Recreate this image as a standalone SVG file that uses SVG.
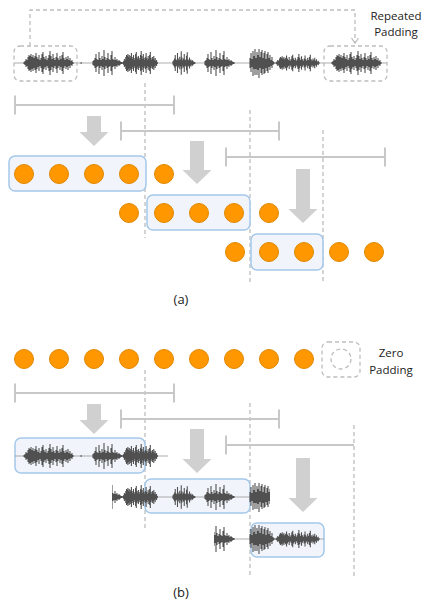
<svg xmlns="http://www.w3.org/2000/svg" xmlns:xlink="http://www.w3.org/1999/xlink" width="424" height="601" viewBox="0 0 424 601">
<style>
.wv{stroke:#505050;stroke-width:1.1;fill:none;vector-effect:non-scaling-stroke}
.cl{stroke:#8a8a8a;stroke-width:0.7}
.dash{stroke:#bdbdbd;stroke-width:1.3;stroke-dasharray:4 3;fill:none}
.bar{stroke:#c8c8c8;stroke-width:2;fill:none}
.arr{fill:#d0d0d0}
.box{fill:#f1f5fb;stroke:#a5c8ea;stroke-width:1.5}
.dot{fill:#ff9800;stroke:#e08700;stroke-width:1}
.txt{font-family:"Open Sans","Liberation Sans",sans-serif;font-size:11.5px;fill:#222;text-anchor:middle}
.cap{font-size:13px}
</style>
<defs>
<path id="b1" class="wv" d="M0-1V1M1-2V2M2-4V4M3-3V3M4-6V6M5-8V8M6-7V7M7-9V9M8-6V6M9-8V8M10-5V5M11-7V7M12-10V10M13-6V6M14-4V4M15-8V8M16-3V3M17-5V5M18-9V9M19-11V11M20-6V6M21-4V4M22-7V7M23-3V3M24-5V5M25-8V8M26-12V12M27-7V7M28-4V4M29-9V9M30-5V5M31-3V3M32-6V6M33-10V10M34-5V5M35-3V3M36-7V7M37-4V4M38-8V8M39-11V11M40-5V5M41-3V3M42-6V6M43-4V4M44-7V7M45-3V3M46-5V5M47-2V2M48-3V3M49-1V1"/>
<path id="b2" class="wv" d="M0-2V2M1-3V3M2-5V5M3-9V9M4-4V4M5-3V3M6-11V11M7-5V5M8-3V3M9-7V7M10-4V4M11-13V13M12-6V6M13-3V3M14-5V5M15-10V10M16-4V4M17-3V3M18-8V8M19-12V12M20-4V4M21-3V3M22-6V6M23-3V3M24-4V4M25-2V2M26-3V3M27-2V2M28-1V1M29-1V1"/>
<path id="b3" class="wv" d="M0-5V5M1-10V9M2-4V4M3-12V13M4-7V6M5-14V12M6-5V6M7-11V12M8-8V7M9-14V15M10-6V5M11-11V10M12-13V12M13-5V6M14-10V11M15-12V10M16-4V5M17-9V8M18-11V10M19-5V4M20-8V7M21-3V3M22-6V5M23-2V2M24-1V1"/>
<g id="sig">
<line class="cl" x1="14" y1="0" x2="387" y2="0"/>
<use xlink:href="#b1" transform="translate(24,0)"/>
<rect x="80.5" y="-0.8" width="1.2" height="1.6" fill="#505050"/>
<use xlink:href="#b2" transform="translate(93,0)"/>
<use xlink:href="#b1" transform="translate(123,0) scale(0.7,1)"/>
<use xlink:href="#b2" transform="translate(173,0) scale(0.75,0.9)"/>
<use xlink:href="#b2" transform="translate(205,0)"/>
<use xlink:href="#b3" transform="translate(250,0)"/>
<use xlink:href="#b1" transform="translate(276,0) scale(0.88,0.75)"/>
<use xlink:href="#b1" transform="translate(332,0)"/>
</g>
<clipPath id="c1"><rect x="15" y="430" width="153" height="50"/></clipPath>
<clipPath id="c2"><rect x="112" y="470" width="158" height="55"/></clipPath>
<clipPath id="c3"><rect x="214" y="515" width="110" height="50"/></clipPath>
</defs>

<g id="connectors">
<path class="dash" d="M30 46V10H355V42"/>
<polyline points="351.5,38 355,43 358.5,38" fill="none" stroke="#bdbdbd" stroke-width="1.3"/>
<line class="dash" x1="145" y1="83" x2="145" y2="238"/>
<line class="dash" x1="250" y1="110" x2="250" y2="283"/>
<line class="dash" x1="323" y1="130" x2="323" y2="283"/>
<line class="dash" x1="145" y1="370" x2="145" y2="528"/>
<line class="dash" x1="250" y1="403" x2="250" y2="575"/>
<line class="dash" x1="354" y1="425" x2="354" y2="576"/>
<path class="bar" d="M15 105H174M15 95.5V114.5M174 95.5V114.5"/>
<path class="bar" d="M121 131H279M121 121.5V140.5M279 121.5V140.5"/>
<path class="bar" d="M226 157H385M226 147.5V166.5M385 147.5V166.5"/>
<path class="bar" d="M15 393H174M15 383.5V402.5M174 383.5V402.5"/>
<path class="bar" d="M121 419H279M121 409.5V428.5M279 409.5V428.5"/>
<path class="bar" d="M226 445H354M226 435.5V454.5"/>
<polygon class="arr" points="87,116 101,116 101,132 108.5,132 94,146 79.5,132 87,132"/>
<polygon class="arr" points="190,141 204,141 204,170 211.5,170 197,184 182.5,170 190,170"/>
<polygon class="arr" points="296,169 310,169 310,209 317.5,209 303,223 288.5,209 296,209"/>
<polygon class="arr" points="87,404 101,404 101,420 108.5,420 94,434 79.5,420 87,420"/>
<polygon class="arr" points="190,429 204,429 204,459 211.5,459 197,473 182.5,459 190,459"/>
<polygon class="arr" points="296,458 310,458 310,498 317.5,498 303,512 288.5,498 296,498"/>
</g>

<g id="top-signal">
<use xlink:href="#sig" transform="translate(0,63)"/>
<rect class="dash" x="14" y="46" width="63" height="35" rx="6"/>
<rect class="dash" x="324" y="46" width="63" height="35" rx="6"/>
<text class="txt" x="396" y="20">Repeated</text>
<text class="txt" x="396" y="36">Padding</text>
</g>

<g id="a-row1">
<rect class="box" x="9" y="156" width="137" height="35" rx="6"/>
<circle class="dot" cx="24" cy="174" r="9.5"/><circle class="dot" cx="59" cy="174" r="9.5"/><circle class="dot" cx="94" cy="174" r="9.5"/><circle class="dot" cx="129" cy="174" r="9.5"/><circle class="dot" cx="164" cy="174" r="9.5"/>
</g>
<g id="a-row2">
<rect class="box" x="147" y="195" width="103" height="35" rx="6"/>
<circle class="dot" cx="129" cy="213" r="9.5"/><circle class="dot" cx="164" cy="213" r="9.5"/><circle class="dot" cx="199" cy="213" r="9.5"/><circle class="dot" cx="234" cy="213" r="9.5"/><circle class="dot" cx="269" cy="213" r="9.5"/>
</g>
<g id="a-row3">
<rect class="box" x="251" y="234" width="72" height="36" rx="6"/>
<circle class="dot" cx="235" cy="252" r="9.5"/><circle class="dot" cx="269" cy="252" r="9.5"/><circle class="dot" cx="304" cy="252" r="9.5"/><circle class="dot" cx="339" cy="252" r="9.5"/><circle class="dot" cx="374" cy="252" r="9.5"/>
</g>
<text class="txt cap" x="181" y="304">(a)</text>

<g id="b-features">
<circle class="dot" cx="24" cy="359" r="9.5"/><circle class="dot" cx="59" cy="359" r="9.5"/><circle class="dot" cx="94" cy="359" r="9.5"/><circle class="dot" cx="129" cy="359" r="9.5"/><circle class="dot" cx="164" cy="359" r="9.5"/><circle class="dot" cx="199" cy="359" r="9.5"/><circle class="dot" cx="234" cy="359" r="9.5"/><circle class="dot" cx="269" cy="359" r="9.5"/><circle class="dot" cx="304" cy="359" r="9.5"/>
<rect class="dash" x="322" y="342" width="38" height="35" rx="6"/>
<circle class="dash" cx="341" cy="359" r="10"/>
<text class="txt" x="391" y="357">Zero</text>
<text class="txt" x="391" y="374">Padding</text>
</g>
<g id="b-row1">
<rect class="box" x="15" y="438" width="130" height="35" rx="6"/>
<g clip-path="url(#c1)"><use xlink:href="#sig" transform="translate(0,456)"/></g>
</g>
<g id="b-row2">
<rect class="box" x="145" y="479" width="105" height="34" rx="6"/>
<g clip-path="url(#c2)"><use xlink:href="#sig" transform="translate(0,497)"/></g>
</g>
<g id="b-row3">
<rect class="box" x="251" y="523" width="73" height="34" rx="6"/>
<g clip-path="url(#c3)"><use xlink:href="#sig" transform="translate(0,539)"/></g>
</g>
<text class="txt cap" x="181" y="597">(b)</text>
</svg>
